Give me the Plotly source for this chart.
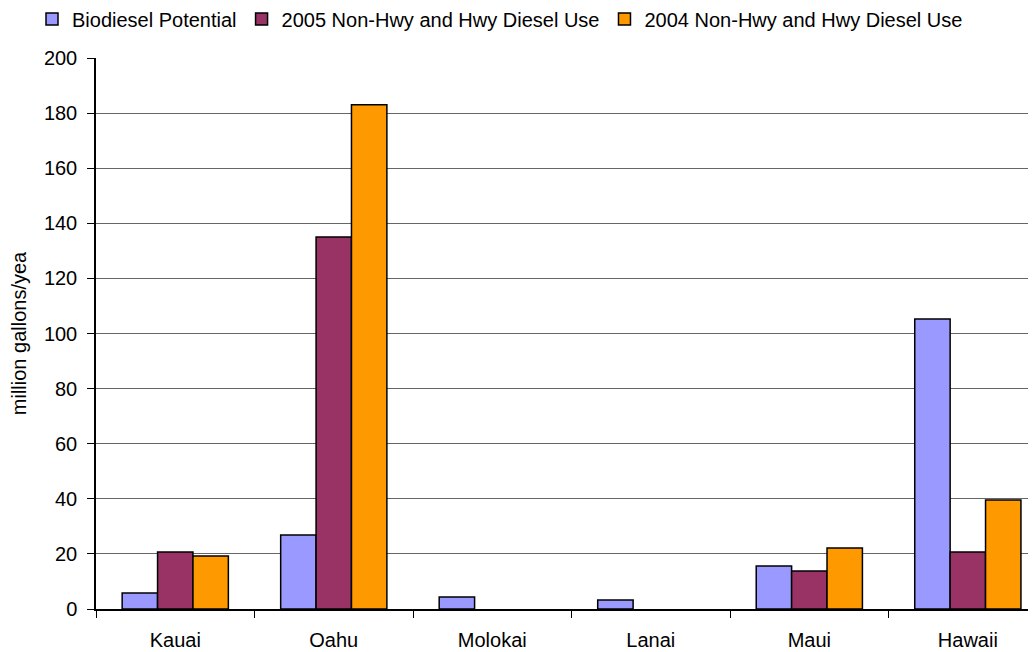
import plotly.graph_objects as go

islands = ["Kauai", "Oahu", "Molokai", "Lanai", "Maui", "Hawaii"]
biodiesel_potential = [5.8, 26.9, 4.4, 3.3, 15.6, 105.3]
diesel_2005 = [20.7, 135.0, None, None, 13.8, 20.7]
diesel_2004 = [19.2, 183.0, None, None, 22.1, 39.6]

series_names = ["Biodiesel Potential", "2005 Non-Hwy and Hwy Diesel Use",
                "2004 Non-Hwy and Hwy Diesel Use"]
series_values = [biodiesel_potential, diesel_2005, diesel_2004]
series_colors = ["#9999FF", "#993366", "#FF9900"]

FONT = "Liberation Sans, Arial, sans-serif"

fig = go.Figure()
for name, vals, col in zip(series_names, series_values, series_colors):
    fig.add_trace(go.Bar(
        x=islands, y=vals, name=name,
        marker=dict(color=col, line=dict(color="#000000", width=1.5)),
    ))

W, H = 1028, 644
fig.update_layout(
    width=W, height=H,
    paper_bgcolor="white", plot_bgcolor="white",
    margin=dict(l=88, r=0, t=50, b=43, autoexpand=False),
    barmode="group", bargap=0.33, bargroupgap=0,
    font=dict(family=FONT, size=20, color="#000000"),
    legend=dict(
        orientation="h", xref="container", yref="container",
        x=24 / W, xanchor="left", y=1 - 11 / H, yanchor="middle",
        font=dict(family=FONT, size=20, color="#000000"),
        itemclick=False, traceorder="normal",
    ),
    showlegend=True,
)

fig.update_xaxes(
    range=[-0.5, 5.43],
    showline=True, linecolor="#000000", linewidth=1.5,
    ticks="outside", tickson="boundaries", ticklen=7, tickcolor="#000000",
    ticklabelstandoff=12,
    showgrid=False, zeroline=False,
    tickfont=dict(family=FONT, size=20, color="#000000"),
)
fig.update_yaxes(
    range=[0, 200], dtick=20,
    showline=True, linecolor="#000000", linewidth=1.5,
    ticks="outside", ticklen=7, tickcolor="#000000",
    ticklabelstandoff=6,
    showgrid=True, gridcolor="#666666", gridwidth=1,
    zeroline=False,
    tickfont=dict(family=FONT, size=20, color="#000000"),
    title=dict(text="million gallons/yea", font=dict(family=FONT, size=20, color="#000000"),
               standoff=12),
)

fig.write_html("out.html")
